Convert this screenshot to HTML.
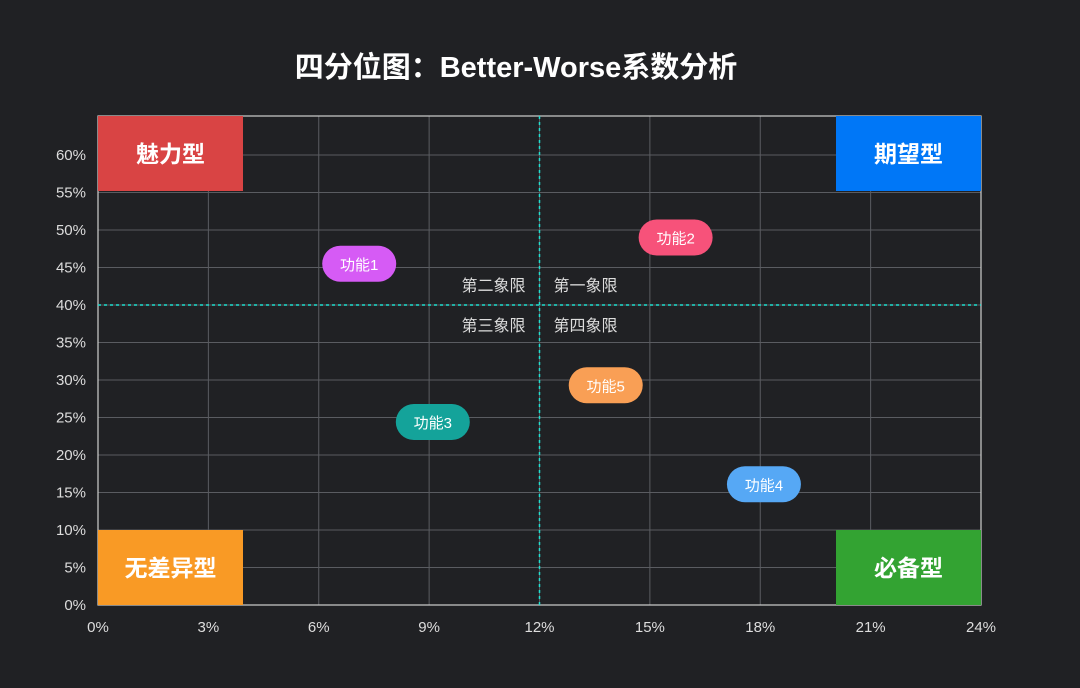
<!DOCTYPE html>
<html><head><meta charset="utf-8"><style>
body{margin:0;background:#202124;}
svg{display:block;font-family:"Liberation Sans","Noto Sans CJK SC",sans-serif;}
</style></head><body>
<svg id="chart" width="1080" height="688">
<rect width="1080" height="688" fill="#202124"/>
<text x="516" y="77" fill="#fff" font-size="29" font-weight="bold" text-anchor="middle">四分位图：Better-Worse系数分析</text>
</svg>
<script>
const names=['功能1','功能2','功能3','功能4','功能5'];
const xVals=[7.1,15.7,9.1,18.1,13.8];
const yVals=[45.5,49,24.4,16.1,29.3];
const colors=['#d65bf5','#f7527a','#14a39a','#56a8f5','#f99f55'];
const xTicks=[0,3,6,9,12,15,18,21,24];
const yTicks=[0,5,10,15,20,25,30,35,40,45,50,55,60];
const xDiv=12, yDiv=40;
const svg=document.getElementById('chart');
const NS='http://www.w3.org/2000/svg';
const X0=98,X1=981,Y0=605,Y1=116,XMAX=24,YMAX=65.2;
const sx=v=>X0+(X1-X0)*v/XMAX, sy=v=>Y0-(Y0-Y1)*v/YMAX;
function mk(t,a,txt){const e=document.createElementNS(NS,t);for(const k in a)e.setAttribute(k,a[k]);if(txt!==undefined)e.textContent=txt;svg.appendChild(e);return e;}
let e;
xTicks.forEach(t=>{
 e=mk('line',{x1:sx(t),x2:sx(t),y1:Y1,y2:Y0,stroke:'#5a5c61','stroke-width':1});
 
 e=mk('text',{x:sx(t),y:Y0+27,fill:'#ddd','font-size':15,'text-anchor':'middle'},t+'%');
 
});
yTicks.forEach(t=>{
 e=mk('line',{x1:X0,x2:X1,y1:sy(t),y2:sy(t),stroke:'#5a5c61','stroke-width':1});
 
 e=mk('text',{x:X0-12,y:sy(t)+5,fill:'#ddd','font-size':15,'text-anchor':'end'},t+'%');
 
});
e=mk('rect',{x:X0,y:Y1,width:X1-X0,height:Y0-Y1,fill:'none',stroke:'#cfcfcf','stroke-width':1.2});

e=mk('line',{x1:sx(xDiv),x2:sx(xDiv),y1:Y1,y2:Y0,stroke:'#1fe0d0','stroke-width':1.5,'stroke-dasharray':'3,3'});

e=mk('line',{x1:X0,x2:X1,y1:sy(yDiv),y2:sy(yDiv),stroke:'#1fe0d0','stroke-width':1.5,'stroke-dasharray':'3,3'});

const ql=[['第二象限',-14,-14,'end'],['第一象限',14,-14,'start'],['第三象限',-14,26,'end'],['第四象限',14,26,'start']];
ql.forEach(q=>{e=mk('text',{x:sx(xDiv)+q[1],y:sy(yDiv)+q[2]+0,fill:'#ddd','font-size':16,'text-anchor':q[3]},q[0]);
 });
const boxes=[['魅力型','#d94444',X0,Y1],['期望型','#0077f7',836,Y1],['无差异型','#f99a25',X0,530],['必备型','#33a332',836,530]];
boxes.forEach(b=>{
 e=mk('rect',{x:b[2],y:b[3],width:145,height:75,fill:b[1]});
 
 e=mk('text',{x:b[2]+72.5,y:b[3]+46,fill:'#fff','font-size':23,'font-weight':'bold','text-anchor':'middle'},b[0]);
 
});
names.forEach((n,i)=>{
 const cx=sx(xVals[i]),cy=sy(yVals[i]);
 e=mk('rect',{x:cx-37,y:cy-18,width:74,height:36,rx:18,fill:colors[i]});
 
 e=mk('text',{x:cx,y:cy+6,fill:'#fff','font-size':15,'text-anchor':'middle'},n);
 
});
</script>
</body></html>
